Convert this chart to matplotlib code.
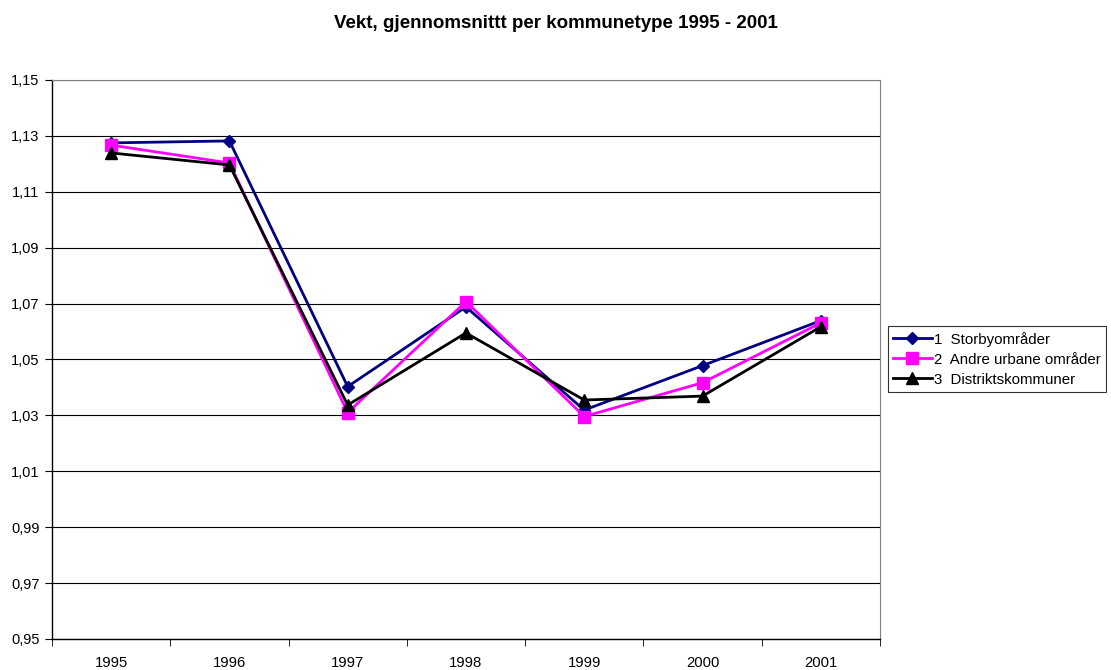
import matplotlib
matplotlib.use("Agg")
import matplotlib.pyplot as plt
import numpy as np

# data
years = ["1995", "1996", "1997", "1998", "1999", "2000", "2001"]
storby = [1.1275, 1.1282, 1.0403, 1.0688, 1.0319, 1.0478, 1.0639]
urbane = [1.1267, 1.1203, 1.0310, 1.0707, 1.0296, 1.0417, 1.0631]
distrikt = [1.1239, 1.1196, 1.0337, 1.0595, 1.0355, 1.0369, 1.0617]
labels = ["1  Storbyområder", "2  Andre urbane områder", "3  Distriktskommuner"]

plt.rcParams['font.family'] = ['Liberation Sans', 'DejaVu Sans']

fig = plt.figure(figsize=(11.11, 6.7), dpi=100)
ax = fig.add_axes([0.0468, 0.0463, 0.7452, 0.8343])

x = np.arange(len(years))
ax.plot(x, storby, color='#000080', marker='D', markersize=6, lw=2, label=labels[0])
ax.plot(x, urbane, color='#FF00FF', marker='s', markersize=8, lw=2, label=labels[1])
ax.plot(x, distrikt, color='black', marker='^', markersize=8, lw=2, label=labels[2])

ax.set_xlim(-0.5, len(years) - 0.5)
ax.set_ylim(0.95, 1.15)
yt = np.arange(0.95, 1.1501, 0.02)
ax.set_yticks(yt)
ax.set_yticklabels([f"{v:.2f}".replace('.', ',') for v in yt], fontsize=10.5)
ax.set_xticks(x)
ax.set_xticklabels(years, fontsize=10.7)
ax.set_xticks(np.arange(-0.5, len(years)), minor=True)
ax.tick_params(axis='x', which='major', length=0, pad=12)
ax.tick_params(axis='x', which='minor', length=5, direction='out', color='black')
ax.tick_params(axis='y', length=5, direction='out', pad=4)

ax.grid(axis='y', color='black', lw=0.8)
ax.set_axisbelow(True)
for s in ['top', 'right']:
    ax.spines[s].set_color('#808080')
    ax.spines[s].set_linewidth(0.8)
for s in ['left', 'bottom']:
    ax.spines[s].set_color('black')
    ax.spines[s].set_linewidth(1)

fig.text(0.5, 0.965, "Vekt, gjennomsnittt per kommunetype 1995 - 2001",
         ha='center', va='center', fontsize=13.5, fontweight='bold')

leg = fig.legend(loc='center left', bbox_to_anchor=(0.799, 0.464), fontsize=10.8,
                 frameon=True, fancybox=False, edgecolor='black', handlelength=2.6,
                 handletextpad=0.15, borderpad=0.35, labelspacing=0.4, borderaxespad=0)
leg.get_frame().set_linewidth(0.8)

fig.savefig("out.png", dpi=100)
